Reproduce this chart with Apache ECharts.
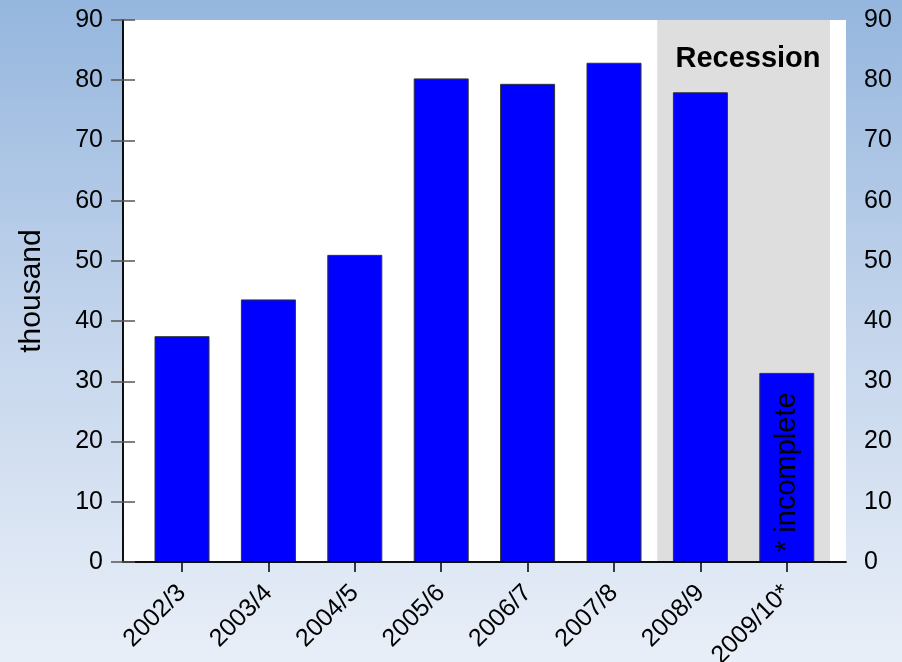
<!DOCTYPE html>
<html>
<head>
<meta charset="utf-8">
<script src="https://cdn.jsdelivr.net/npm/echarts@6/dist/echarts.min.js"></script>
<style>
  html, body { margin: 0; padding: 0; }
  #chart { width: 902px; height: 662px; }
</style>
</head>
<body>
<div id="chart"></div>
<script>
// Academic years and their counts (thousands)
const years = ['2002/3', '2003/4', '2004/5', '2005/6', '2006/7', '2007/8', '2008/9', '2009/10*'];
const counts = [37.5, 43.6, 51.0, 80.3, 79.4, 82.9, 78.0, 31.4];
// Years falling in the recession (shaded)
const recessionYears = ['2008/9', '2009/10*'];
const yTicks = { min: 0, max: 90, interval: 10 };

const FONT = 'Liberation Sans';

const chart = echarts.init(document.getElementById('chart'), null, { renderer: 'canvas' });

const lastIdx = counts.length - 1;
const barData = counts.map((v, i) => i === lastIdx ? {
  value: v,
  label: {
    show: true,
    formatter: '* incomplete',
    position: 'insideBottom',
    rotate: 90,
    align: 'left',
    verticalAlign: 'middle',
    distance: 10,
    fontSize: 29,
    fontFamily: FONT,
    color: '#000'
  }
} : v);

// Recession band spans the full category bands of its first and last years
const recStart = years.indexOf(recessionYears[0]) - 0.5;
const recEnd = years.indexOf(recessionYears[recessionYears.length - 1]) + 0.5;

const frameAxisCommon = {
  type: 'value', gridIndex: 1, min: 0, max: 1, z: 10,
  axisLine: { show: true, lineStyle: { color: '#000', width: 1.5 } },
  axisTick: { show: false }, axisLabel: { show: false }, splitLine: { show: false }
};

const yAxisCommon = {
  type: 'value', gridIndex: 1, min: yTicks.min, max: yTicks.max, interval: yTicks.interval, z: 10,
  axisLine: { show: true, lineStyle: { color: '#000', width: 1.5 } },
  axisTick: { show: true, inside: false, length: 12, lineStyle: { color: '#555', width: 1.5 } },
  axisLabel: { color: '#000', fontSize: 25, fontFamily: FONT },
  splitLine: { show: false }
};

chart.setOption({
  backgroundColor: {
    type: 'linear', x: 0, y: 0, x2: 0, y2: 1,
    colorStops: [
      { offset: 0, color: '#95b6de' },
      { offset: 0.5, color: '#c4d5ec' },
      { offset: 1, color: '#e9eff8' }
    ]
  },
  animation: false,
  grid: [
    { left: 138.8, right: 72, top: 20, bottom: 100, show: false, outerBoundsMode: 'none', containLabel: false },
    { left: 123, right: 56, top: 20, bottom: 100, show: true, backgroundColor: '#fff', borderWidth: 0, outerBoundsMode: 'none', containLabel: false }
  ],
  xAxis: [
    {
      type: 'category', gridIndex: 0, data: years, z: 10,
      axisLine: { show: false },
      axisTick: { show: true, alignWithLabel: true, length: 10, lineStyle: { color: '#000', width: 1.5 } },
      axisLabel: { rotate: 45, margin: 27, color: '#000', fontSize: 25, fontFamily: FONT, interval: 0 }
    },
    {
      // continuous companion of the category axis, used to place the shaded band
      type: 'value', gridIndex: 0, min: -0.5, max: years.length - 0.5, show: false
    },
    Object.assign({ position: 'bottom' }, frameAxisCommon),
    Object.assign({ position: 'top' }, frameAxisCommon)
  ],
  yAxis: [
    { type: 'value', gridIndex: 0, min: yTicks.min, max: yTicks.max, show: false },
    Object.assign({
      position: 'left',
      name: 'thousand', nameLocation: 'middle', nameRotate: 90, nameGap: 76,
      nameTextStyle: { fontSize: 30, fontFamily: FONT, color: '#000' }
    }, yAxisCommon, { axisLabel: Object.assign({}, yAxisCommon.axisLabel, { margin: 20 }) }),
    Object.assign({ position: 'right' }, yAxisCommon, { axisLabel: Object.assign({}, yAxisCommon.axisLabel, { margin: 18 }) })
  ],
  series: [
    {
      type: 'line', xAxisIndex: 1, yAxisIndex: 0, data: [], z: 1, silent: true,
      markArea: {
        silent: true,
        itemStyle: { color: '#dedede' },
        data: [[{ xAxis: recStart }, { xAxis: recEnd }]]
      }
    },
    {
      type: 'bar', xAxisIndex: 0, yAxisIndex: 0, data: barData,
      barWidth: 55, z: 2,
      itemStyle: { color: '#0000ff', borderColor: '#333', borderWidth: 1 }
    }
  ],
  graphic: [
    {
      type: 'text', x: 748, y: 59, z: 20,
      style: {
        text: 'Recession', fontSize: 29, fontWeight: 'bold', fontFamily: FONT,
        fill: '#000', align: 'center', verticalAlign: 'middle'
      }
    }
  ]
});
</script>
</body>
</html>
